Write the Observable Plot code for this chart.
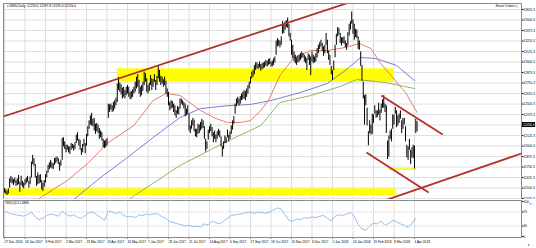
<!DOCTYPE html>
<html><head><meta charset="utf-8">
<script src="https://cdn.jsdelivr.net/npm/d3@7"></script>
<script src="https://cdn.jsdelivr.net/npm/@observablehq/plot@0.6"></script>
<style>
html,body{margin:0;padding:0;background:#fff;overflow:hidden}
#wrap{position:relative;width:536px;height:248px;background:#fff}
#main,#rsi{position:absolute;left:0}
#main{top:0}
#rsi{top:199px}
svg{display:block}
</style></head><body>
<div id="wrap"><div id="main"></div><div id="rsi"></div></div>
<script>
// ---------- data ----------
const title = "\u25BE DE30,Daily  12253.0 12297.8 12235.6 12256.4";
const smartOrders = "Smart Orders \u24D8";
const rsiLabel = "RSI(14) 51.4836";
const currentPrice = 12256.4;

const dateLabels = ["27 Dec 2016","18 Jan 2017","8 Feb 2017","2 Mar 2017","23 Mar 2017","13 Apr 2017","16 May 2017","7 Jun 2017","28 Jun 2017","21 Jul 2017","14 Aug 2017","6 Sep 2017","27 Sep 2017","18 Oct 2017","10 Nov 2017","6 Dec 2017","2 Jan 2018","24 Jan 2018","15 Feb 2018","8 Mar 2018","4 Apr 2018"];
const labelIdx = [0,16,32,48,64,80,96,112,128,144,160,176,192,208,224,240,256,272,288,304,320];

const priceTicks = [13625.3,13500.3,13375.3,13250.3,13125.3,13000.3,12875.3,12750.3,12625.3,12500.3,12375.3,12250.3,12125.3,12000.3,11875.3,11750.3,11625.3,11500.3,11375.3];
const rsiTicks = [0,30,70,100];

// daily lows / highs (bar index 0 = 27 Dec 2016)
const lows = [
 11440,11425,11410,11430,
 11500,11560,11550,11530,11560,11520,11530,11540,11450,11530,11510,11490,11530,11550,11570,11500,11540,11620,11780,11760,11620,11520,
 11540,11550,11560,11480,11460,11510,11560,11620,11680,11720,11740,11730,11720,11770,11790,11810,11780,11700,11760,
 11830,11990,11960,11920,11950,11920,11900,11950,11970,11940,11960,12030,12060,12000,11950,11890,11920,11990,11910,12000,12110,12200,12250,
 12240,12230,12180,12140,12170,12150,12080,12100,12060,11980,11970,11980,12000,12330,12400,12430,12400,12410,
 12440,12480,12520,12660,12640,12610,12560,12580,12560,12600,12620,12580,12550,12560,12580,12620,12640,12680,12700,12620,12580,12600,
 12650,12720,12760,12640,12620,12650,12720,12660,12700,12760,12660,12720,12800,12760,12720,12740,12700,12720,12620,12580,12480,12420,
 12440,12450,12400,12360,12330,12380,12370,12440,12500,12480,12440,12350,12360,12380,12180,12150,12200,12240,12170,12110,12100,
 12140,12150,12180,12200,12210,12080,11930,11960,12070,12150,12170,12110,12040,12080,12040,12080,12120,12100,11990,11870,11960,12030,12030,
 12100,12050,12080,12140,12190,12260,12380,12470,12500,12480,12500,12540,12550,12560,12540,12580,12620,12680,12740,12800,12820,
 12850,12900,12920,12910,12930,12890,12910,12920,12930,12950,12940,12960,12970,12940,12940,12960,12990,13080,13180,13190,13170,13200,
 13330,13340,13380,13410,13400,13300,13250,13080,13040,13000,12980,12960,12990,13000,13020,13040,13050,13000,12980,12900,13020,12960,
 12840,13000,12980,12990,13000,13050,13100,13150,13180,13130,13070,13100,13200,13100,13020,12960,12850,
 12780,12900,13050,13200,13300,13320,13220,13190,13220,13210,13170,13140,13190,13310,13380,13450,13330,13260,13290,13280,13150,13140,
 12950,12770,12560,12250,12480,12240,12003,12150,12130,12140,12270,12380,12330,12340,12370,12300,12390,12450,12450,12400,
 12150,11840,11870,12080,12050,12200,12250,12380,12220,12240,12270,12320,12150,12200,12250,12050,11860,11830,11950,11780,11860,
 11850,11727,12150,12170
];
const highs = [
 11495,11480,11465,11490,
 11610,11640,11620,11600,11620,11590,11610,11650,11570,11640,11580,11560,11600,11620,11640,11580,11630,11810,11890,11850,11780,11640,
 11680,11650,11660,11590,11560,11590,11660,11700,11770,11800,11830,11800,11790,11850,11860,11870,11850,11800,11830,
 12090,12100,12050,12010,12010,11990,11990,12030,12020,12010,12040,12130,12160,12080,12070,11970,12020,12080,12030,12140,12230,12300,12360,
 12390,12320,12330,12260,12270,12250,12210,12180,12160,12080,12060,12070,12090,12500,12490,12500,12480,12520,
 12540,12570,12740,12816,12750,12730,12690,12700,12660,12700,12720,12700,12640,12650,12670,12700,12760,12820,12850,12780,12700,12720,
 12760,12880,12860,12800,12720,12750,12840,12800,12790,12850,12780,12830,12947,12900,12830,12820,12790,12820,12770,12680,12640,12520,
 12540,12530,12500,12480,12420,12470,12460,12560,12560,12540,12520,12500,12440,12480,12380,12240,12300,12330,12310,12200,12200,
 12260,12250,12280,12320,12300,12230,12080,12050,12190,12230,12260,12220,12160,12180,12130,12170,12200,12180,12110,12000,12050,12120,12100,
 12190,12130,12170,12240,12300,12350,12500,12560,12580,12560,12590,12620,12640,12660,12650,12680,12720,12760,12820,12880,12900,
 12960,12990,12990,12970,13000,12970,12980,12990,13000,13020,13010,13030,13040,13000,13010,13040,13060,13250,13280,13260,13250,13300,
 13480,13440,13480,13490,13525,13450,13340,13260,13200,13120,13080,13050,13070,13080,13100,13120,13100,13080,13060,13040,13100,13080,
 13060,13120,13080,13060,13100,13160,13200,13230,13260,13220,13180,13200,13340,13260,13130,13080,12950,
 12900,13010,13200,13330,13410,13400,13340,13290,13290,13300,13250,13220,13350,13450,13480,13597,13500,13450,13390,13380,13300,13250,
 13120,12960,12760,12600,12610,12450,12170,12300,12250,12380,12370,12480,12420,12420,12510,12430,12500,12550,12600,12500,
 12480,12060,12120,12180,12200,12370,12370,12460,12420,12360,12380,12420,12300,12330,12330,12230,12010,11990,12080,11950,11980,
 12010,12000,12320,12290
];

// moving averages read at sample bars
const fastIdx = [17,27,49,65,80,101,116,126,137,153,165,174,184,192,200,206,215,226,239,252,266,277,286,293,305,313,322];
const fastVal = [11174,11376,11590,11793,12031,12245,12542,12626,12602,12423,12328,12281,12281,12304,12423,12542,12840,13054,13137,13137,13173,13221,13161,12995,12780,12637,12400];
const midIdx = [45,55,75,96,118,137,153,176,192,208,231,252,266,278,290,306,320];
const midVal = [11233,11376,11626,11864,12126,12340,12447,12483,12495,12542,12638,12745,12899,13054,13042,12959,12780];
const slowIdx = [89,98,137,175,200,215,239,262,275,297,320];
const slowVal = [11174,11376,11769,12066,12245,12519,12602,12709,12792,12757,12685];

// drawn trend lines: start bar, start price, end bar, end price
const tlX1 = [-3, 294, 282.5, 296.6];
const tlY1 = [12341, 12602, 11924, 11352];
const tlX2 = [280, 342, 331, 403.5];
const tlY2 = [13764, 12138, 11447, 11912];

// support / resistance zones
const zX1 = [88.2, -3, 299.7];
const zX2 = [303.6, 306, 321.6];
const zLo = [12760, 11412, 11709];
const zHi = [12919, 11491, 11731];

// RSI(14), read every third bar
const rsiVals = [72,68,64,62,60, 58,63,70,56,48, 52,60,64,62,58, 72,64,58,62,55, 52,60,68,70,62, 55,46,72,70,66, 70,60,56,58,54, 62,60,64,62,66, 64,56,52,42,40, 36,34,30,32,28, 30,27,36,33,44, 40,36,44,52,60, 62,64,66,68,70, 66,70,68,66,70, 76,82,78,62,46, 44,50,48,54,52, 56,54,58,60,52, 44,58,62,60,64, 68,58,34,22,18, 30,38,36,44,32, 38,46,42,36,32, 26,38,52];

// ---------- build ----------
const bars = lows.map((lo, i) => ({i, lo, hi: highs[i]}));
const fast = fastIdx.map((x, k) => ({x, v: fastVal[k]}));
const mid = midIdx.map((x, k) => ({x, v: midVal[k]}));
const slow = slowIdx.map((x, k) => ({x, v: slowVal[k]}));
const tls = tlX1.map((x1, k) => ({x1, y1: tlY1[k], x2: tlX2[k], y2: tlY2[k]}));
const zones = zX1.map((x1, k) => ({x1, x2: zX2[k], y1: zLo[k], y2: zHi[k]}));
const rsi = rsiVals.map((v, k) => ({x: k * 3, v}));

const X_DOMAIN = [-0.78, 403.5];
const FONT = "'Liberation Sans', Arial, sans-serif";
const FS = 3.2;
const GRID = "#dedede";

const main = Plot.plot({
  width: 536, height: 200,
  marginTop: 3, marginBottom: 1, marginLeft: 3, marginRight: 15,
  x: {domain: X_DOMAIN, axis: null},
  y: {domain: [11364.3, 13696.7], axis: null},
  style: {fontFamily: FONT, background: "#fff", overflow: "visible"},
  marks: [
    Plot.gridX(labelIdx, {stroke: GRID, strokeOpacity: 1}),
    Plot.gridY(priceTicks, {stroke: GRID, strokeOpacity: 1}),
    Plot.rect(zones, {x1: "x1", x2: "x2", y1: "y1", y2: "y2", fill: "#ffff00", clip: true}),
    Plot.line(slow, {x: "x", y: "v", stroke: "#7fae5a", strokeWidth: 0.9, clip: true}),
    Plot.line(mid, {x: "x", y: "v", stroke: "#6f6fcf", strokeWidth: 0.9, clip: true}),
    Plot.line(fast, {x: "x", y: "v", stroke: "#e0705e", strokeWidth: 0.9, clip: true}),
    Plot.ruleX(bars, {x: "i", y1: "lo", y2: "hi", stroke: "#000", strokeWidth: 1, clip: true}),
    Plot.link(tls, {x1: "x1", y1: "y1", x2: "x2", y2: "y2", stroke: "#b52f2c", strokeWidth: 1.8, clip: true}),
    Plot.axisY(priceTicks, {anchor: "right", tickSize: 1.5, tickPadding: 0.5, fontSize: FS, tickFormat: d => d.toFixed(1)}),
    Plot.ruleY([currentPrice], {x1: 403.7, x2: 414.5, stroke: "#000", strokeWidth: 5}),
    Plot.text([currentPrice], {x: 404.6, y: d => d, text: d => d.toFixed(1), fill: "#fff", textAnchor: "start", fontSize: FS}),
    Plot.frame({stroke: "#8a8a8a"}),
    Plot.text([title], {frameAnchor: "top-left", dx: 3, dy: 1.5, fontSize: FS, textAnchor: "start", fill: "#000"}),
    Plot.text([smartOrders], {frameAnchor: "top-right", dx: -3, dy: 1.2, fontSize: FS, textAnchor: "end", fill: "#000"})
  ]
});
document.getElementById("main").appendChild(main);

const rsiPlot = Plot.plot({
  width: 536, height: 49,
  marginTop: 1, marginBottom: 11, marginLeft: 3, marginRight: 15,
  x: {domain: X_DOMAIN, axis: null},
  y: {domain: [-2.857, 102.857], axis: null},
  style: {fontFamily: FONT, background: "#fff", overflow: "visible"},
  marks: [
    Plot.gridX(labelIdx, {stroke: GRID, strokeOpacity: 1}),
    Plot.ruleY([30, 70], {stroke: "#cfcfcf", strokeDasharray: "1,1"}),
    Plot.line(rsi, {x: "x", y: "v", stroke: "#8ab8e6", strokeWidth: 0.9}),
    Plot.axisY(rsiTicks, {anchor: "right", tickSize: 1.5, tickPadding: 0.5, fontSize: FS}),
    Plot.axisX(labelIdx, {anchor: "bottom", tickSize: 1.5, tickPadding: 2, fontSize: FS, textAnchor: "start",
      tickFormat: d => dateLabels[labelIdx.indexOf(d)]}),
    Plot.frame({stroke: "#8a8a8a"}),
    Plot.text([rsiLabel], {frameAnchor: "top-left", dx: 2, dy: 1.2, fontSize: FS, textAnchor: "start", fill: "#000"})
  ]
});
document.getElementById("rsi").appendChild(rsiPlot);
</script>
</body></html>
